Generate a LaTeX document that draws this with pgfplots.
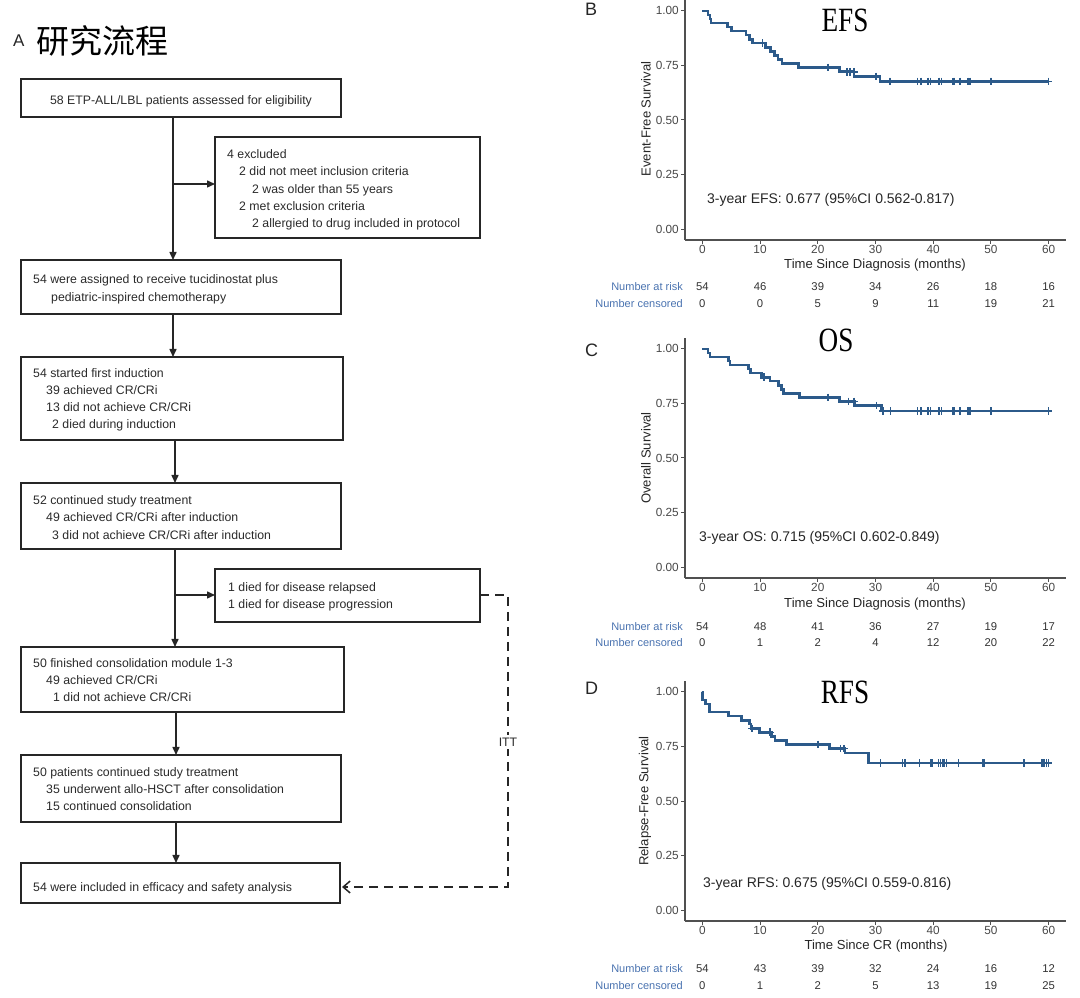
\documentclass[border=0pt]{standalone}
\usepackage{pgfplots}
\pgfplotsset{compat=1.18}
\usepackage{fontspec}
\setmainfont{Liberation Sans}
\newfontfamily\serifT{Liberation Serif}
\newfontfamily\cjk{Noto Sans CJK SC}
\usetikzlibrary{arrows.meta}
\definecolor{kmblue}{HTML}{2C5A8A}
\definecolor{riskblue}{HTML}{4A73B0}
\definecolor{axgray}{HTML}{505050}
\definecolor{txtgray}{HTML}{2A2A2A}

\pgfplotsset{
  kmaxis/.style={
    scale only axis, width=381pt, height=240pt,
    xmin=-3, xmax=63, ymin=-0.05, ymax=1.05,
    axis x line*=bottom, axis y line*=left,
    axis line style={-, draw=axgray, line width=1.3pt},
    xtick={0,10,20,30,40,50,60},
    ytick={0,0.25,0.5,0.75,1},
    tick align=outside, major tick length=4pt,
    tick style={draw=axgray, line width=1pt},
    ticklabel style={font=\fontsize{11.8}{13}\selectfont, text=black!72},
    xticklabel style={inner sep=1pt},
    yticklabel style={inner sep=2pt, /pgf/number format/.cd, fixed, fixed zerofill, precision=2},
    /pgf/number format/assume math mode=true,
    clip=false,
  },
  kmline/.style={const plot, draw=kmblue, line width=2.6pt, mark=none},
  kmcens/.style={only marks, mark=+, mark size=3.8pt, mark options={draw=kmblue, line width=1.5pt}},
}

\tikzset{
  ft/.style={anchor=base west, inner sep=0pt, font=\fontsize{12.3}{14}\selectfont, text=txtgray},
  bx/.style={draw=black!85, line width=1.5pt},
  ar/.style={draw=black!85, line width=1.5pt, -{Triangle[length=8pt,width=7pt]}},
  ln/.style={draw=black!85, line width=1.5pt},
  lab/.style={font=\fontsize{13.1}{15}\selectfont, text=black!85, inner sep=0pt},
  ann/.style={anchor=base west, inner sep=0pt, font=\fontsize{14}{16}\selectfont, text=black!85},
  ttl/.style={font=\serifT\fontsize{34}{36}\selectfont, xscale=0.8, inner sep=0pt},
  risklab/.style={anchor=base east, inner sep=0pt, font=\fontsize{11}{13}\selectfont, text=riskblue},
  risknum/.style={anchor=base, inner sep=0pt, font=\fontsize{11.3}{13}\selectfont, text=black!80},
  pl/.style={anchor=base west, inner sep=0pt, font=\fontsize{18}{20}\selectfont, text=black!85},
}

\begin{document}
\begin{tikzpicture}[x=1pt,y=1pt]
\useasboundingbox (0pt,0pt) rectangle (1080pt,997pt);

% ---------------- Panel B: EFS ----------------
\begin{axis}[kmaxis, at={(685pt,757pt)}, anchor=south west]
\addplot[kmline] coordinates {
(0,1.000) (1.0,0.981) (1.3,0.963) (1.5,0.944) (4.4,0.926) (5.1,0.907)
(7.6,0.889) (8.2,0.870) (8.7,0.852) (10.9,0.833) (11.8,0.815) (12.5,0.796)
(13.1,0.778) (13.8,0.759) (16.7,0.741) (23.8,0.721) (26.3,0.700) (30.8,0.677) (60,0.677)};
\addplot[kmcens] coordinates {
(10.4,0.852) (21.8,0.741) (25.1,0.721) (25.6,0.721) (26.3,0.721) (30.1,0.700)
(32.4,0.677) (32.6,0.677) (37.3,0.677) (37.9,0.677) (39.1,0.677) (39.5,0.677)
(41.0,0.677) (41.4,0.677) (43.4,0.677) (43.7,0.677) (44.6,0.677) (46.0,0.677)
(46.4,0.677) (49.9,0.677) (50.1,0.677) (60,0.677)};
\end{axis}

% ---------------- Panel C: OS ----------------
\begin{axis}[kmaxis, at={(685pt,419pt)}, anchor=south west]
\addplot[kmline] coordinates {
(0,1.000) (1.0,0.981) (1.3,0.963) (4.5,0.944) (4.8,0.926) (8.0,0.907)
(8.3,0.889) (10.2,0.870) (11.7,0.852) (13.2,0.833) (13.7,0.815) (14.1,0.796)
(16.8,0.778) (23.8,0.759) (26.4,0.740) (31.0,0.715) (60,0.715)};
\addplot[kmcens] coordinates {
(10.7,0.870) (21.8,0.778) (25.3,0.759) (26.3,0.759) (30.2,0.740) (31.3,0.715)
(32.6,0.715) (37.3,0.715) (37.9,0.715) (39.1,0.715) (39.5,0.715) (41.0,0.715)
(41.4,0.715) (43.4,0.715) (43.7,0.715) (44.6,0.715) (46.0,0.715) (46.4,0.715)
(49.9,0.715) (50.1,0.715) (60,0.715)};
\end{axis}

% ---------------- Panel D: RFS ----------------
\begin{axis}[kmaxis, at={(685pt,76pt)}, anchor=south west]
\addplot[kmline] coordinates {
(0,1.000) (0.05,0.963) (0.6,0.944) (1.2,0.907) (4.5,0.889) (6.8,0.870)
(8.2,0.852) (8.4,0.833) (9.9,0.815) (12.0,0.796) (12.6,0.778) (14.6,0.759)
(22.0,0.740) (24.7,0.720) (28.8,0.675) (60,0.675)};
\addplot[kmcens] coordinates {
(8.6,0.833) (11.7,0.815) (20.0,0.759) (23.9,0.740) (24.5,0.740) (30.9,0.675)
(34.7,0.675) (35.1,0.675) (37.6,0.675) (39.6,0.675) (39.9,0.675) (40.9,0.675)
(41.3,0.675) (41.6,0.675) (41.9,0.675) (42.3,0.675) (44.4,0.675) (48.6,0.675)
(48.9,0.675) (55.7,0.675) (58.8,0.675) (59.2,0.675) (59.6,0.675) (60,0.675)};
\end{axis}

\begin{scope}[y=-1pt, yshift=997pt]
% ---- panel titles & labels ----
\node[pl] at (585,16) {B};
\node[pl] at (585,357) {C};
\node[pl] at (585,695) {D};
\node[ttl] at (845,20) {EFS};
\node[ttl] at (836,340) {OS};
\node[ttl] at (845,692) {RFS};
\node[ann] at (707,204) {3-year EFS: 0.677 (95\%CI 0.562-0.817)};
\node[ann] at (699,542) {3-year OS: 0.715 (95\%CI 0.602-0.849)};
\node[ann] at (703,888) {3-year RFS: 0.675 (95\%CI 0.559-0.816)};
\node[lab] at (875,265) {Time Since Diagnosis (months)};
\node[lab] at (875,604) {Time Since Diagnosis (months)};
\node[lab] at (876,946) {Time Since CR (months)};
\node[lab, rotate=90] at (646,119) {Event-Free Survival};
\node[lab, rotate=90] at (646,458) {Overall Survival};
\node[lab, rotate=90] at (645,801) {Relapse-Free Survival};
% ---- risk tables ----
\node[risklab] at (683,291) {Number at risk};
\node[risklab] at (683,308) {Number censored};
\foreach \n [count=\i from 0] in {54,46,39,34,26,18,16} \node[risknum] at ({702.3+57.73*\i},291) {\n};
\foreach \n [count=\i from 0] in {0,0,5,9,11,19,21} \node[risknum] at ({702.3+57.73*\i},308) {\n};
\node[risklab] at (683,631) {Number at risk};
\node[risklab] at (683,647) {Number censored};
\foreach \n [count=\i from 0] in {54,48,41,36,27,19,17} \node[risknum] at ({702.3+57.73*\i},631) {\n};
\foreach \n [count=\i from 0] in {0,1,2,4,12,20,22} \node[risknum] at ({702.3+57.73*\i},647) {\n};
\node[risklab] at (683,972) {Number at risk};
\node[risklab] at (683,989) {Number censored};
\foreach \n [count=\i from 0] in {54,43,39,32,24,16,12} \node[risknum] at ({702.3+57.73*\i},972) {\n};
\foreach \n [count=\i from 0] in {0,1,2,5,13,19,25} \node[risknum] at ({702.3+57.73*\i},989) {\n};

% ---- flowchart title ----
\node[anchor=base west, inner sep=0pt, font=\fontsize{17}{19}\selectfont, text=black!85] at (13,47) {A};
\node[anchor=west, inner sep=0pt, font=\cjk\fontsize{33}{36}\selectfont, text=black] at (36,41) {研究流程};

% ---- boxes ----
\draw[bx] (21,79) rectangle (341,117);
\draw[bx] (215,137) rectangle (480,238);
\draw[bx] (21,260) rectangle (341,314);
\draw[bx] (21,357) rectangle (343,440);
\draw[bx] (21,483) rectangle (341,549);
\draw[bx] (215,569) rectangle (480,622);
\draw[bx] (21,647) rectangle (344,712);
\draw[bx] (21,755) rectangle (341,822);
\draw[bx] (21,863) rectangle (340,903);

% ---- arrows ----
\draw[ar] (173,117) -- (173,260);
\draw[ar] (173,184) -- (215,184);
\draw[ar] (173,314) -- (173,357);
\draw[ar] (175,440) -- (175,483);
\draw[ar] (175,549) -- (175,647);
\draw[ar] (175,595) -- (215,595);
\draw[ar] (176,712) -- (176,755);
\draw[ar] (176,822) -- (176,863);
\draw[ln, dash pattern=on 9pt off 6pt, -{Straight Barb[length=7pt,width=12pt]}] (480,595) -- (508,595) -- (508,887) -- (342,887);
\node[fill=white, inner sep=3pt, font=\fontsize{12.3}{14}\selectfont, text=txtgray] at (508,742) {ITT};

% ---- flowchart text ----
\node[ft, anchor=base] at (181,104.3) {58 ETP-ALL/LBL patients assessed for eligibility};
\node[ft] at (227,158.3) {4 excluded};
\node[ft] at (239,175.3) {2 did not meet inclusion criteria};
\node[ft] at (252,193.3) {2 was older than 55 years};
\node[ft] at (239,210.3) {2 met exclusion criteria};
\node[ft] at (252,227.3) {2 allergied to drug included in protocol};
\node[ft] at (33,283.3) {54 were assigned to receive tucidinostat plus};
\node[ft] at (51,301.3) {pediatric-inspired chemotherapy};
\node[ft] at (33,377.3) {54 started first induction};
\node[ft] at (46,394.3) {39 achieved CR/CRi};
\node[ft] at (46,411.3) {13 did not achieve CR/CRi};
\node[ft] at (52,428.3) {2 died during induction};
\node[ft] at (33,504.3) {52 continued study treatment};
\node[ft] at (46,521.3) {49 achieved CR/CRi after induction};
\node[ft] at (52,539.3) {3 did not achieve CR/CRi after induction};
\node[ft] at (228,591.3) {1 died for disease relapsed};
\node[ft] at (228,608.3) {1 died for disease progression};
\node[ft] at (33,667.3) {50 finished consolidation module 1-3};
\node[ft] at (46,684.3) {49 achieved CR/CRi};
\node[ft] at (53,701.3) {1 did not achieve CR/CRi};
\node[ft] at (33,776.3) {50 patients continued study treatment};
\node[ft] at (46,793.3) {35 underwent allo-HSCT after consolidation};
\node[ft] at (46,810.3) {15 continued consolidation};
\node[ft] at (33,891.3) {54 were included in efficacy and safety analysis};
\end{scope}
\end{tikzpicture}
\end{document}
